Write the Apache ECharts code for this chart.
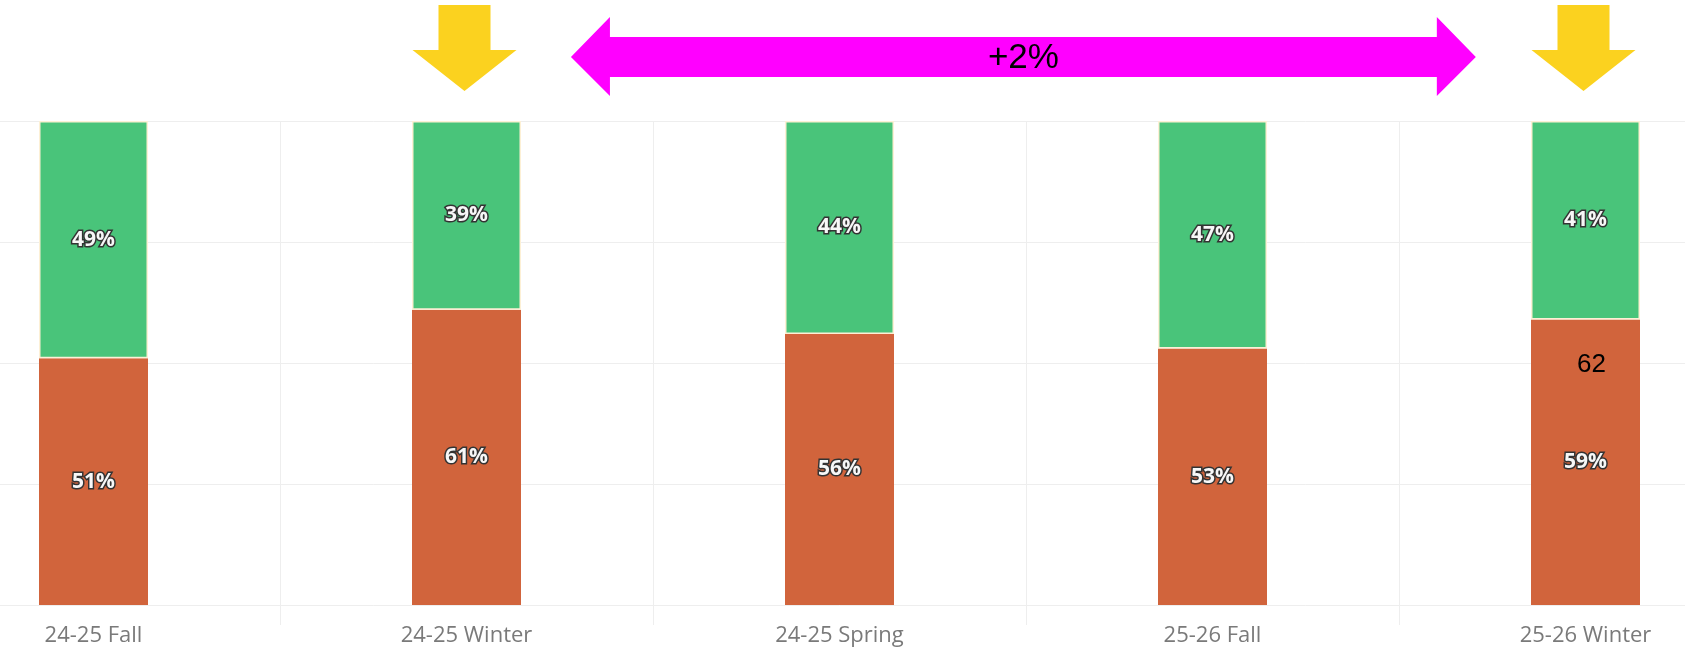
<!DOCTYPE html>
<html>
<head>
<meta charset="utf-8">
<script src="https://cdn.jsdelivr.net/npm/echarts@6/dist/echarts.min.js"></script>
<style>
  html, body { margin: 0; padding: 0; background: #ffffff; overflow: hidden; width: 1685px; height: 651px; }
  #chart { position: absolute; left: -93px; top: 0; width: 1865px; height: 651px; }
</style>
</head>
<body>
<div id="chart"></div>
<script>
// ---- data ----
const categories = ['24-25 Fall', '24-25 Winter', '24-25 Spring', '25-26 Fall', '25-26 Winter'];
const orangeValues = [51, 61, 56, 53, 59];
const greenValues = [49, 39, 44, 47, 41];
const yMin = 0, yMax = 100, yInterval = 25;
const changeText = '+2%';
const noteText = '62';
const noteAt = [4, 50];           // category index, value
const yellowArrowAt = [1, 4];     // category indices with a yellow arrow
const spanFrom = 1, spanTo = 4;   // magenta arrow spans between these categories

const chart = echarts.init(document.getElementById('chart'), null, { renderer: 'canvas' });

const labelStyle = {
  show: true,
  position: 'inside',
  formatter: '{c}%',
  color: '#f7f7f7',
  fontFamily: 'Open Sans, Roboto, sans-serif',
  fontWeight: 'bold',
  fontSize: 21,
  textBorderColor: '#333333',
  textBorderWidth: 3
};

chart.setOption({
  animation: false,
  backgroundColor: '#ffffff',
  grid: { left: 0, right: 0, top: 121, bottom: 46, containLabel: false },
  xAxis: {
    type: 'category',
    data: categories,
    boundaryGap: true,
    axisLine: { show: false },
    axisTick: { show: true, length: 20, lineStyle: { color: '#eeeeee' } },
    splitLine: { show: true, lineStyle: { color: '#eeeeee', width: 1 } },
    axisLabel: {
      color: '#7a7a7a',
      fontFamily: 'Open Sans, sans-serif',
      fontSize: 22,
      margin: 20
    }
  },
  yAxis: {
    type: 'value',
    min: yMin, max: yMax, interval: yInterval,
    axisLabel: { show: false },
    axisLine: { show: false },
    axisTick: { show: false },
    splitLine: { show: true, lineStyle: { color: '#eeeeee', width: 1 } }
  },
  series: [
    {
      name: 'Bottom',
      type: 'bar',
      stack: 'total',
      data: orangeValues,
      barWidth: 109,
      itemStyle: { color: '#d1643c' },
      label: labelStyle
    },
    {
      name: 'Top',
      type: 'bar',
      stack: 'total',
      data: greenValues,
      barWidth: 109,
      itemStyle: { color: '#49c47a', borderColor: '#fdf0d5', borderWidth: 1.5 },
      label: labelStyle
    }
  ]
});

// ---- annotations anchored to the category axis ----
const px = i => chart.convertToPixel({ xAxisIndex: 0 }, i);
const step = px(1) - px(0);
const graphics = [];

yellowArrowAt.forEach(i => {
  const cx = px(i) - 2;
  graphics.push({
    type: 'polygon',
    shape: { points: [
      [cx - 26, 5], [cx + 26, 5], [cx + 26, 50], [cx + 52, 50],
      [cx, 91], [cx - 52, 50], [cx - 26, 50]
    ] },
    style: { fill: '#fbd21f' },
    z: 10
  });
});

const lt = px(spanFrom) + 0.28 * step;
const rt = px(spanTo) - 0.294 * step;
const hw = 39;
graphics.push({
  type: 'polygon',
  shape: { points: [
    [lt, 57], [lt + hw, 17], [lt + hw, 37], [rt - hw, 37], [rt - hw, 17],
    [rt, 57], [rt - hw, 96], [rt - hw, 77], [lt + hw, 77], [lt + hw, 96]
  ] },
  style: { fill: '#ff00ff' },
  z: 10
});
graphics.push({
  type: 'text',
  x: (lt + rt) / 2, y: 58,
  style: {
    text: changeText, fill: '#000000',
    font: '35px "Liberation Sans", Arial, sans-serif',
    textAlign: 'center', textVerticalAlign: 'middle'
  },
  z: 11
});

const np = chart.convertToPixel({ gridIndex: 0 }, noteAt);
graphics.push({
  type: 'text',
  x: np[0] + 6, y: np[1] + 2,
  style: {
    text: noteText, fill: '#000000',
    font: '26px "Liberation Sans", Arial, sans-serif',
    textAlign: 'center', textVerticalAlign: 'middle'
  },
  z: 11
});

chart.setOption({ graphic: graphics });
</script>
</body>
</html>
